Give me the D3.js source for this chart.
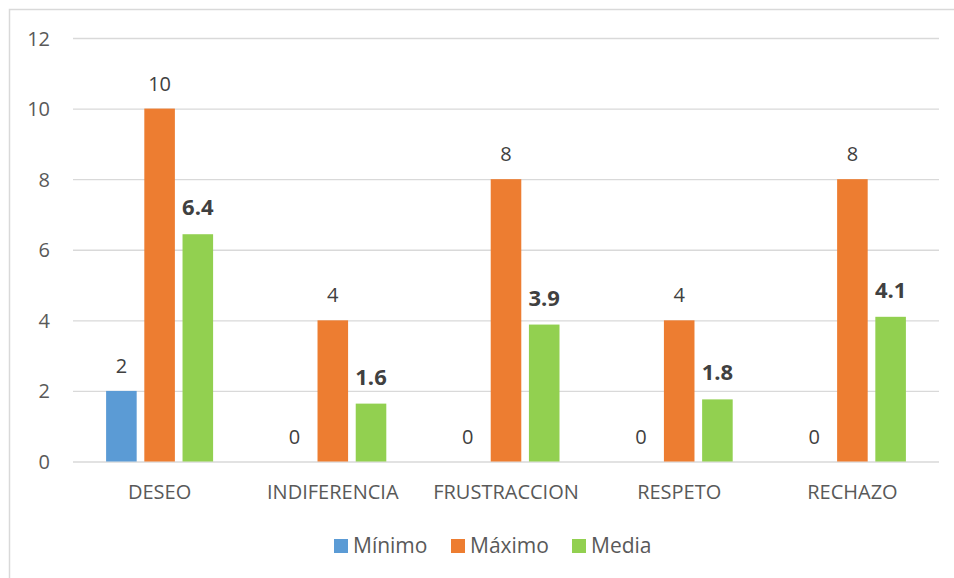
<!DOCTYPE html>
<html><head><meta charset="utf-8">
<script src="https://cdn.jsdelivr.net/npm/d3@7"></script>
<style>body{margin:0;background:#fff}svg{display:block}text{font-family:"Open Sans",sans-serif}</style>
</head><body><svg id="c" width="954" height="578"></svg>
<script>
const categories = ["DESEO","INDIFERENCIA","FRUSTRACCION","RESPETO","RECHAZO"];
const seriesNames = ["Mínimo","Máximo","Media"];
const minimo = [2,0,0,0,0];
const maximo = [10,4,8,4,8];
const media = [6.44,1.64,3.88,1.76,4.1];
const mediaLabels = ["6.4","1.6","3.9","1.8","4.1"];
const yTicks = [0,2,4,6,8,10,12];
const colors = ["#5B9BD5","#ED7D31","#92D050"];

const svg = d3.select("#c");
svg.append("rect").attr("x",9.5).attr("y",9.5).attr("width",960).attr("height",600)
  .attr("fill","none").attr("stroke","#D9D9D9").attr("stroke-width",1.5);

const L=73,R=939,T=38,B=461.5;
const y = d3.scaleLinear().domain([0,12]).range([B,T]);
const x = d3.scaleBand().domain(categories).range([L,R]).paddingInner(0).paddingOuter(0);
const groupW = 107;
const xi = d3.scaleBand().domain(seriesNames).range([0,groupW]).paddingInner(0.2).paddingOuter(0);

const yAxis = d3.axisLeft(y).tickValues(yTicks).tickSize(-(R-L)).tickFormat(d3.format("d"));
const gy = svg.append("g").attr("transform",`translate(${L},0)`).call(yAxis);
gy.select(".domain").remove();
gy.selectAll(".tick line").attr("stroke","#D9D9D9").attr("stroke-width",1.3);
gy.selectAll(".tick text").attr("x",-23).attr("fill","#595959").style("font-size","20px").attr("dy","0.35em");

const xAxis = d3.axisBottom(x).tickSize(0);
const gx = svg.append("g").attr("transform",`translate(0,${B})`).call(xAxis);
gx.select(".domain").remove();
gx.selectAll(".tick text").attr("y",37.5).attr("dy","0").attr("fill","#595959").style("font-size","20px");

const series = [minimo,maximo,media];
const labels = [minimo.map(String), maximo.map(String), mediaLabels];
series.forEach((vals,si)=>{
  const name = seriesNames[si];
  const g = svg.append("g");
  const data = categories.map((c,i)=>({c,v:vals[i],l:labels[si][i]}));
  const off = d => x(d.c) + (x.bandwidth()-groupW)/2 + xi(name);
  g.selectAll("rect").data(data).join("rect")
    .attr("x",off).attr("width",xi.bandwidth())
    .attr("y",d=>y(d.v)).attr("height",d=>B-y(d.v))
    .attr("fill",colors[si]);
  g.selectAll("text").data(data).join("text")
    .attr("x",d=>off(d)+xi.bandwidth()/2).attr("y",d=>y(d.v)-(si===2?19:18))
    .attr("text-anchor","middle").attr("fill","#404040")
    .style("font-size",si===2?"22px":"20px").style("font-weight",si===2?"bold":"normal")
    .text(d=>d.l);
});

const leg = svg.append("g");
const legX = [334,451,572];
seriesNames.forEach((n,i)=>{
  leg.append("rect").attr("x",legX[i]).attr("y",539).attr("width",14).attr("height",14).attr("fill",colors[i]);
  leg.append("text").attr("x",legX[i]+19).attr("y",553).attr("fill","#595959")
    .style("font-size","21px").text(n);
});
</script></body></html>
